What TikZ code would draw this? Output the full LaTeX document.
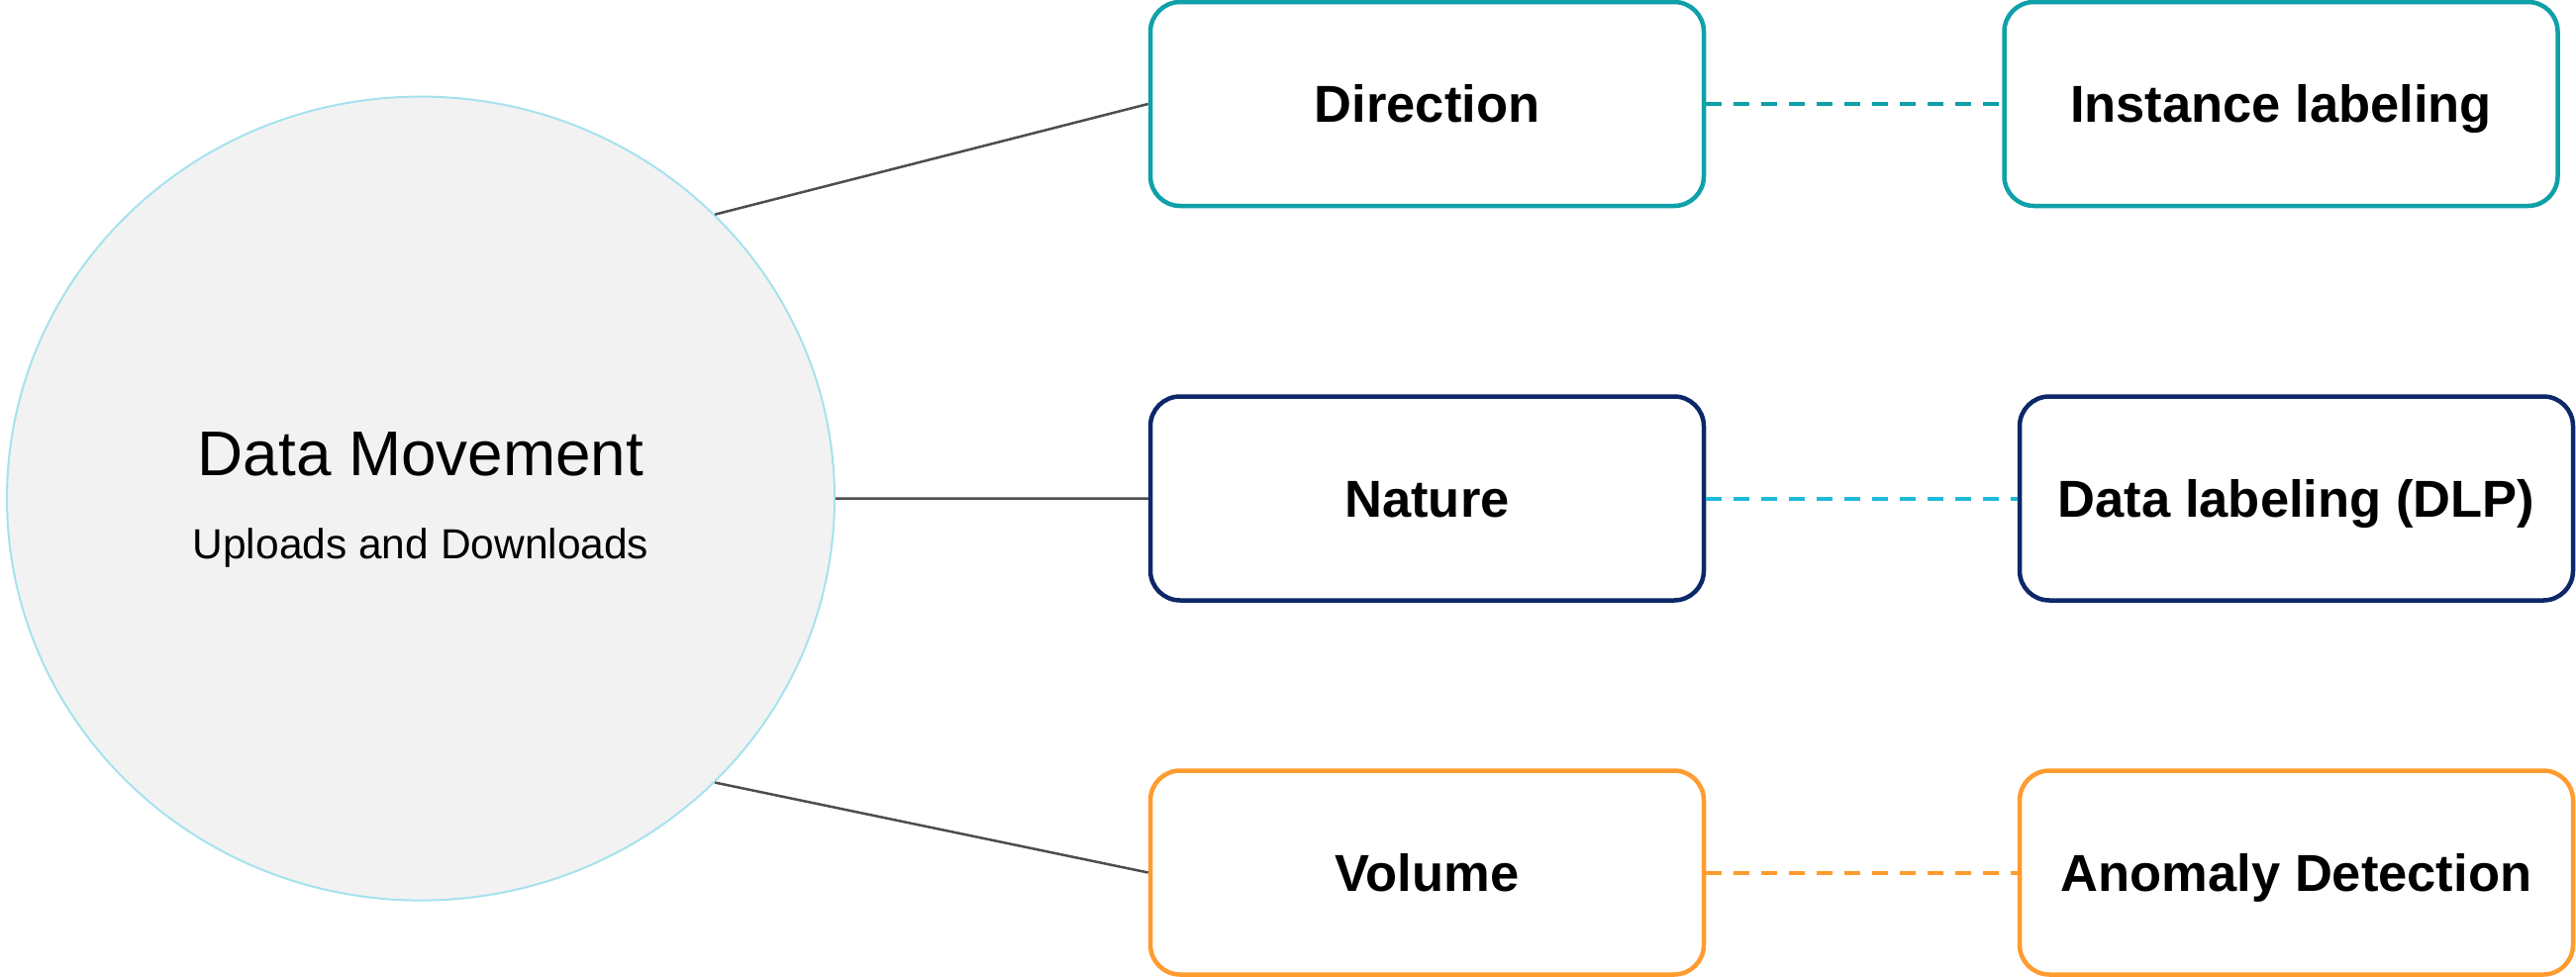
\documentclass[tikz,border=0pt]{standalone}
\usepackage{fontspec}
\setmainfont{Liberation Sans}
\usetikzlibrary{shapes.geometric}

\definecolor{hubfill}{HTML}{F2F2F2}
\definecolor{hubedge}{HTML}{A5E2EE}
\definecolor{wire}{HTML}{4D4D4D}
\definecolor{teal}{HTML}{0FA0A8}
\definecolor{navy}{HTML}{0C2868}
\definecolor{orange}{HTML}{FF9B2F}
\definecolor{skyblue}{HTML}{1FBADB}

\tikzset{
  card/.style={draw=#1, line width=4.5pt, rounded corners=30pt, fill=white,
    minimum width=559pt, minimum height=206pt, inner sep=0pt,
    text height=37.6pt, text depth=0pt,
    font=\bfseries\fontsize{52.5}{60}\selectfont},
  spoke/.style={draw=wire, line width=2.5pt},
  link/.style={line width=4pt, dash pattern=on 16pt off 12pt, draw=#1}
}

\begin{document}
\begin{tikzpicture}[x=1pt,y=-1pt]
  \useasboundingbox (0,0) rectangle (2602,986);

  % central hub
  \node[ellipse, draw=hubedge, line width=2pt, fill=hubfill, inner sep=0pt,
        minimum width=836pt, minimum height=812pt] (hub) at (425,503.6) {};
  \node[anchor=base, font=\fontsize{63.8}{70}\selectfont] (hubtitle) at (425,480) {Data Movement};
  \node[anchor=base, font=\fontsize{42.5}{50}\selectfont] (hubsub) at (425,564) {Uploads and Downloads};

  % middle column
  \node[card=teal]   (dir) at (1441.5,105)   {Direction};
  \node[card=navy]   (nat) at (1441.5,503.5) {Nature};
  \node[card=orange] (vol) at (1441.5,881.5) {Volume};

  % right column
  \node[card=teal]   (inst) at (2304,105)     {Instance labeling};
  \node[card=navy]   (dlp)  at (2319.5,503.5) {Data labeling (DLP)};
  \node[card=orange] (anom) at (2319.5,881.5) {Anomaly Detection};

  % spokes from the hub
  \draw[spoke] (hub.44) -- (dir.west);
  \draw[spoke] (hub.east) -- (nat.west);
  \draw[spoke] (hub.-44) -- (vol.west);

  % dashed links
  \draw[link=teal]    (dir.east) -- (inst.west);
  \draw[link=skyblue] (nat.east) -- (dlp.west);
  \draw[link=orange]  (vol.east) -- (anom.west);
\end{tikzpicture}
\end{document}
